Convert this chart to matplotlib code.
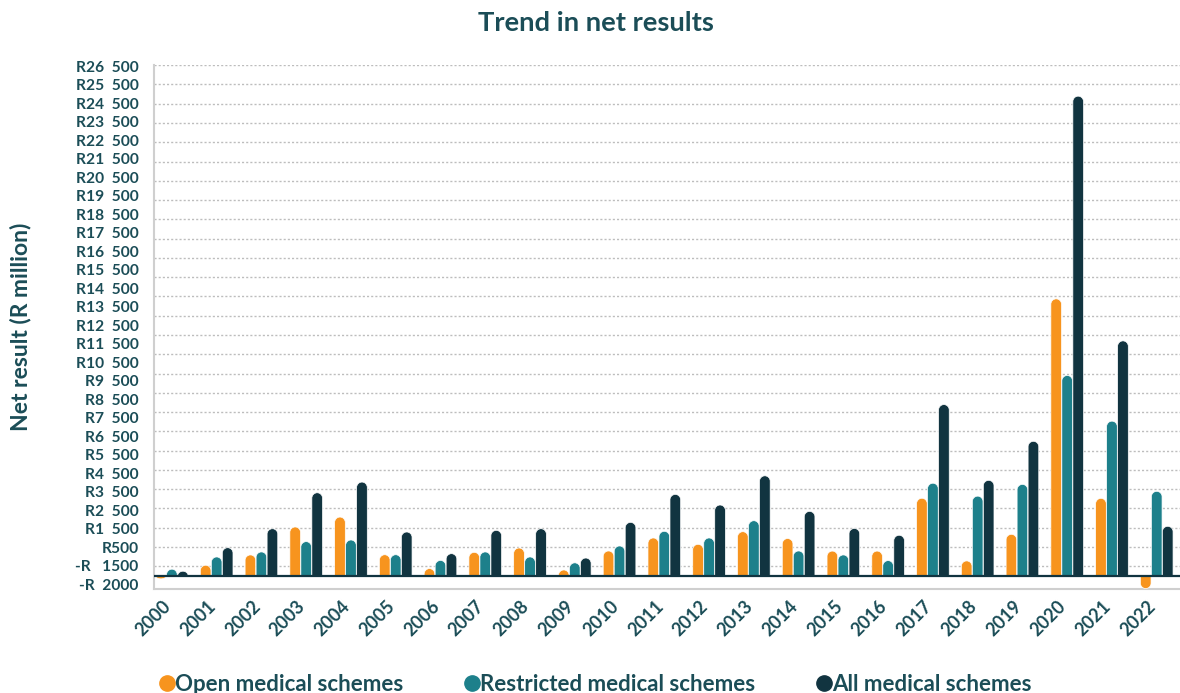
import numpy as np
import matplotlib
matplotlib.use("Agg")
import matplotlib.pyplot as plt
from matplotlib.path import Path
from matplotlib.patches import PathPatch
from matplotlib.lines import Line2D
from matplotlib.transforms import ScaledTranslation

years = [str(y) for y in range(2000, 2023)]

# net results per year, R million
open_schemes = [-150, 555, 1090, 2540, 3055, 1100, 380, 1225, 1450, 310, 1295, 1970,
                1640, 2295, 1940, 1290, 1290, 4030, 780, 2160, 14375, 4025, -655]
restricted_schemes = [350, 985, 1245, 1780, 1865, 1100, 805, 1245, 985, 680, 1555, 2315,
                      1970, 2865, 1295, 1090, 795, 4810, 4140, 4750, 10400, 8030, 4390]
all_schemes = [245, 1465, 2450, 4315, 4870, 2280, 1155, 2365, 2450, 930, 2780, 4230,
               3680, 5195, 3350, 2465, 2110, 8890, 4960, 6985, 24890, 12195, 2575]

series_names = ["Open medical schemes", "Restricted medical schemes", "All medical schemes"]
colors = ["#F7941E", "#1D808B", "#113440"]

ytick_labels = ["-R  2000", "-R   1500", "R500"] + [f"R{n}  500" for n in range(1, 27)]
grid_values = np.arange(500, 27000, 1000)

text_color = "#1B4D57"
plt.rcParams["font.family"] = ["Lato", "DejaVu Sans"]
plt.rcParams["font.weight"] = "bold"


def rounded_bar(ax, xc, value, width, ry, color):
    """Bar from zero to value with a rounded end on the value side."""
    x0, x1 = xc - width / 2, xc + width / 2
    s = 1 if value >= 0 else -1
    r = min(ry, abs(value))
    shoulder = value - s * r
    k = 0.5523
    hw = width / 2
    verts = [(x0, 0), (x0, shoulder),
             (x0, shoulder + s * k * r), (xc - k * hw, value), (xc, value),
             (xc + k * hw, value), (x1, shoulder + s * k * r), (x1, shoulder),
             (x1, 0), (x0, 0)]
    codes = [Path.MOVETO, Path.LINETO,
             Path.CURVE4, Path.CURVE4, Path.CURVE4,
             Path.CURVE4, Path.CURVE4, Path.CURVE4,
             Path.LINETO, Path.CLOSEPOLY]
    ax.add_patch(PathPatch(Path(verts, codes), facecolor=color,
                           edgecolor="white", linewidth=0.5, zorder=3))


fig = plt.figure(figsize=(11.8, 6.93), dpi=100)
ax = fig.add_axes([0.1305, 0.150, 0.8695, 0.756])

ymin, ymax = -680, 26500
xmin, xmax = -0.4, len(years) - 0.48
ax.set_xlim(xmin, xmax)
ax.set_ylim(ymin, ymax)

x = np.arange(len(years))
bar_w = 0.238
step = 0.2457

# rounding radius in y units so the cap looks circular on screen
bbox = ax.get_window_extent()
x_per_px = (xmax - xmin) / bbox.width
y_per_px = (ymax - ymin) / bbox.height
ry = (bar_w / 2) / x_per_px * y_per_px

for i, (vals, col) in enumerate(zip([open_schemes, restricted_schemes, all_schemes], colors)):
    for xi, v in zip(x + (i - 1) * step, vals):
        rounded_bar(ax, xi, v, bar_w, ry, col)

ax.axhline(0, color="#113440", linewidth=1.6, zorder=4)

# dotted gridlines
ax.set_yticks(grid_values, minor=True)
ax.grid(which="minor", axis="y", color="#BDBDBD", linestyle=(0, (1.5, 1.5)),
        linewidth=1.0, zorder=0)
ax.grid(which="major", visible=False)

# y labels spread evenly along the axis
fracs = np.linspace(0.0095, 0.998, len(ytick_labels))
ax.set_yticks(ymin + fracs * (ymax - ymin))
ax.set_yticklabels(ytick_labels)
ax.tick_params(axis="y", which="both", length=0, pad=11, labelsize=11.2,
               labelcolor=text_color)

ax.set_xticks(x)
ax.set_xticklabels(years, rotation=45, ha="right", va="top", rotation_mode="anchor")
ax.tick_params(axis="x", length=0, pad=6, labelsize=13, labelcolor=text_color)
shift = ScaledTranslation(-7 / 72, 0, fig.dpi_scale_trans)
for lbl in ax.get_xticklabels():
    lbl.set_transform(lbl.get_transform() + shift)

for side in ["top", "right"]:
    ax.spines[side].set_visible(False)
for side in ["left", "bottom"]:
    ax.spines[side].set_color("#CFCFCF")
    ax.spines[side].set_linewidth(1.5)

ax.set_ylabel("Net result (R million)", fontsize=16.5, color=text_color,
              fontweight="bold")
ax.yaxis.set_label_coords(-0.12, 0.5)

fig.text(0.505, 0.967, "Trend in net results", ha="center", va="center",
         fontsize=19.7, fontweight="bold", color=text_color)

handles = [Line2D([], [], marker="o", linestyle="", markersize=11, color=c)
           for c in colors]
fig.legend(handles, series_names, loc="center left", bbox_to_anchor=(0.1165, 0.012),
           ncol=3, frameon=False, handletextpad=-0.1, handlelength=0.9,
           columnspacing=2.65, fontsize=16, labelcolor=text_color)

fig.savefig("out.png", dpi=100)
